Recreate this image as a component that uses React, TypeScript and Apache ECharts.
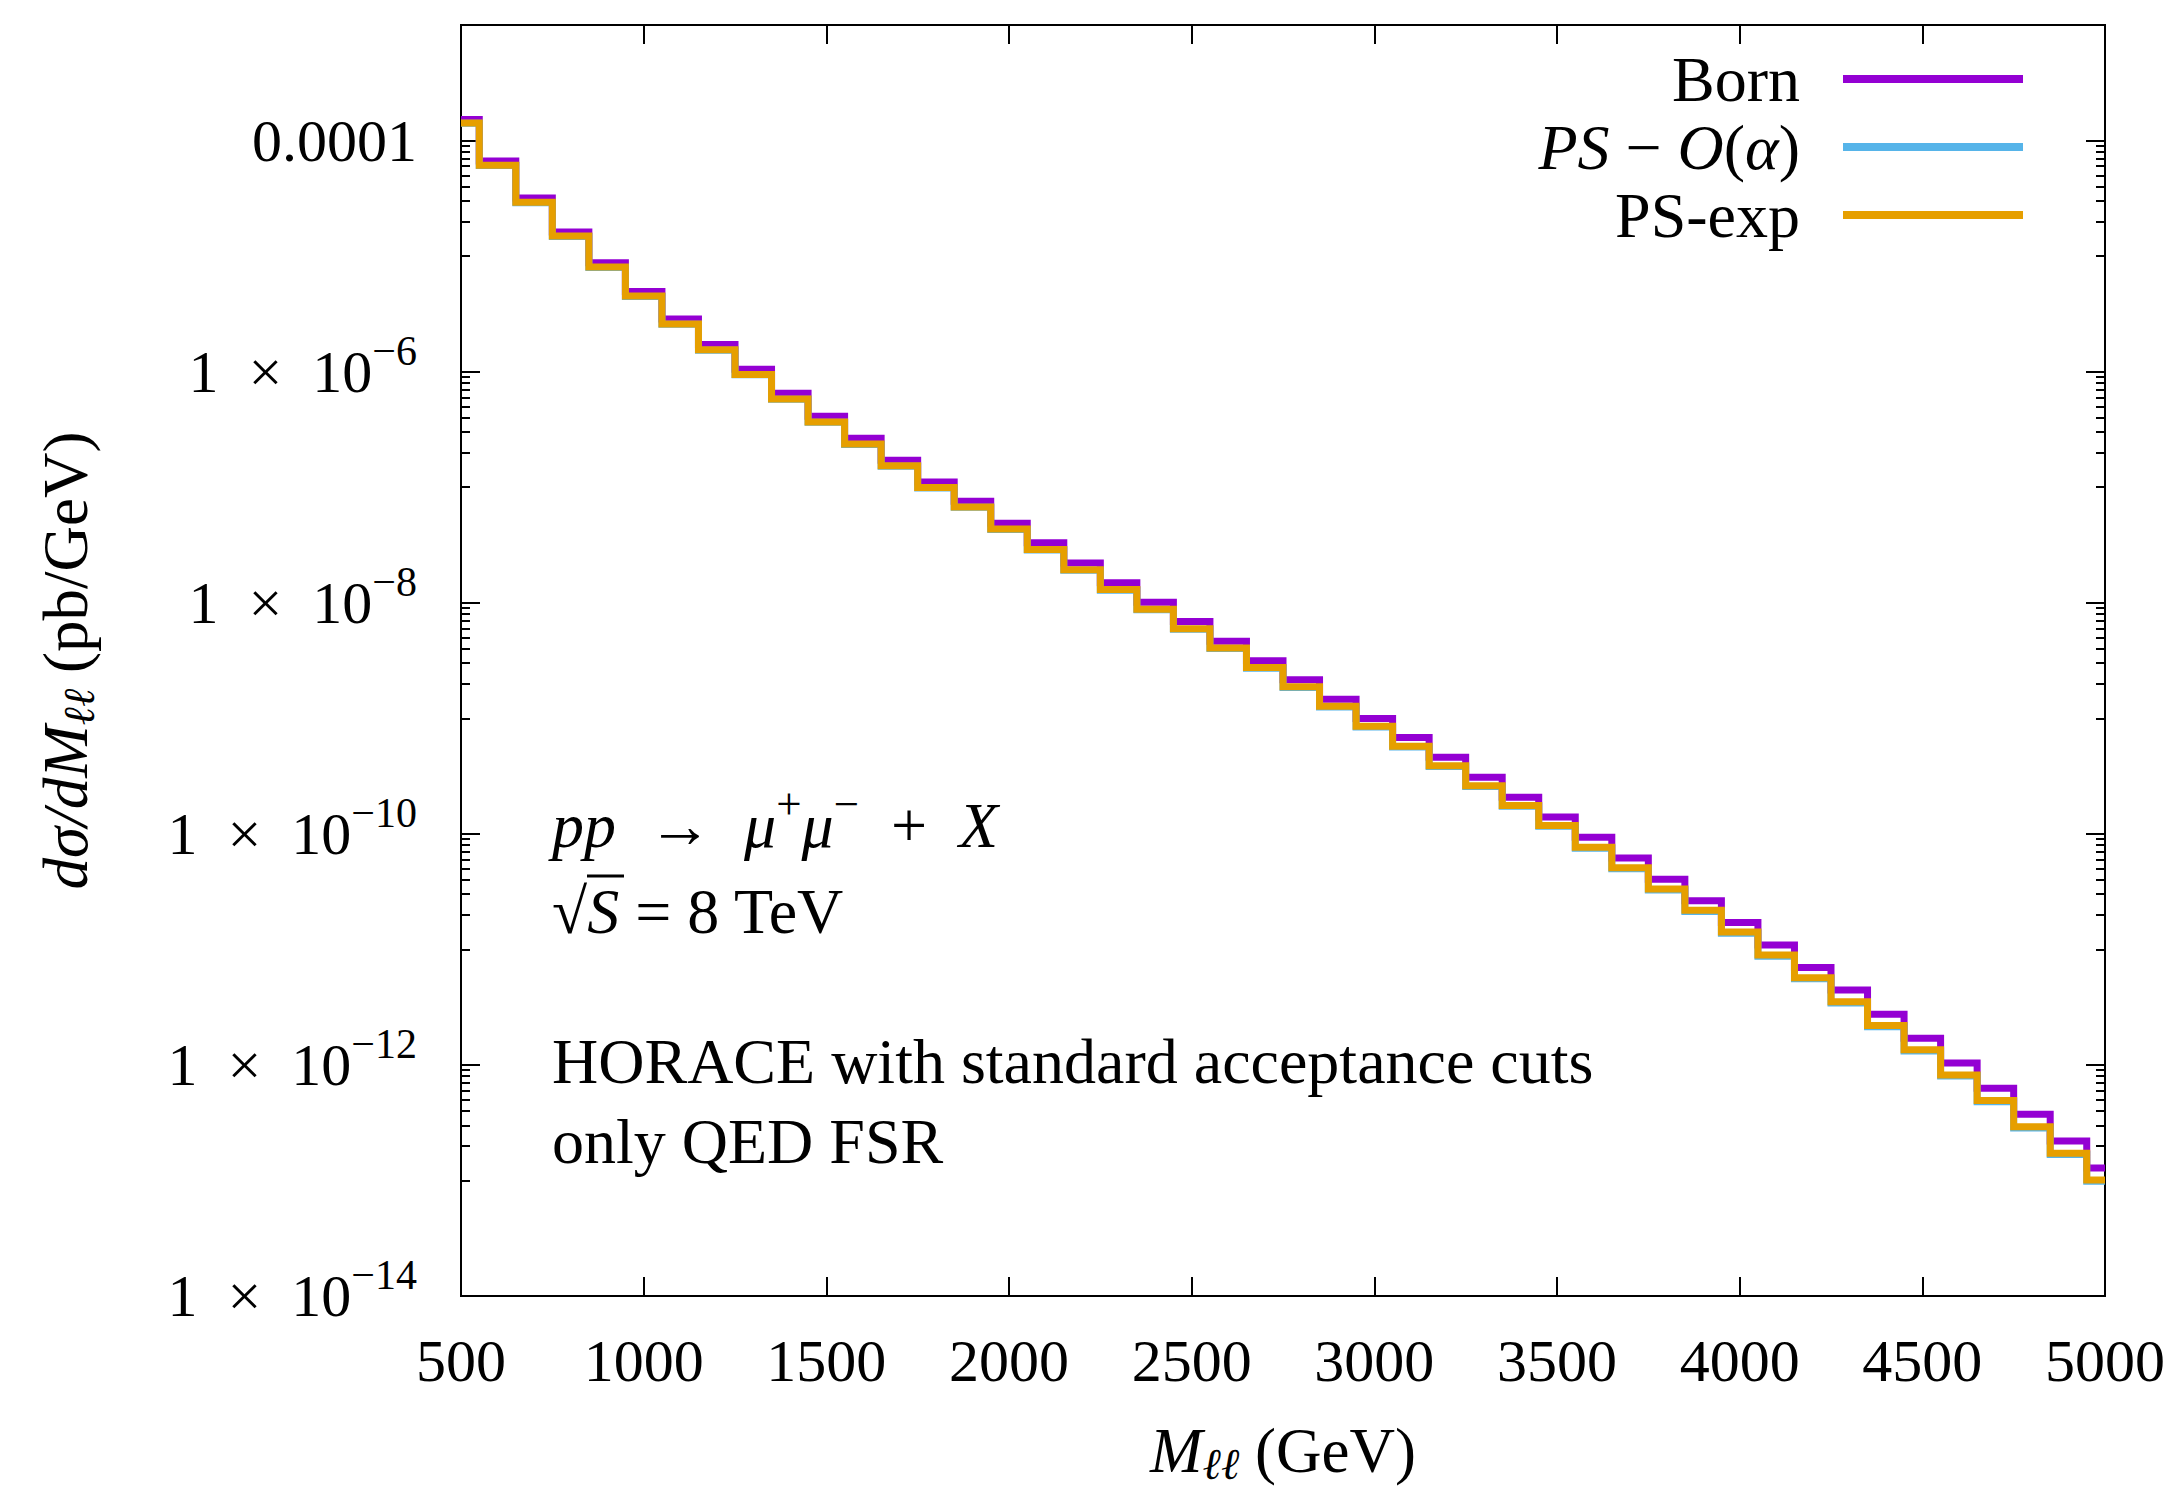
import React, { useEffect, useRef } from 'react';
import * as echarts from 'echarts';

// ---------------- data ----------------
// bin centres (GeV), bins are 100 GeV wide
const BIN_CENTERS = [
  500, 600, 700, 800, 900, 1000, 1100, 1200, 1300, 1400,
  1500, 1600, 1700, 1800, 1900, 2000, 2100, 2200, 2300, 2400,
  2500, 2600, 2700, 2800, 2900, 3000, 3100, 3200, 3300, 3400,
  3500, 3600, 3700, 3800, 3900, 4000, 4100, 4200, 4300, 4400,
  4500, 4600, 4700, 4800, 4900, 5000,
];

// dσ/dM (pb/GeV)
const BORN = [
  1.52e-4, 6.64e-5, 3.18e-5, 1.62e-5, 8.75e-6, 4.95e-6, 2.86e-6, 1.72e-6, 1.05e-6, 6.5e-7,
  4.11e-7, 2.65e-7, 1.71e-7, 1.11e-7, 7.55e-8, 4.88e-8, 3.3e-8, 2.21e-8, 1.49e-8, 1.01e-8,
  6.87e-9, 4.65e-9, 3.15e-9, 2.15e-9, 1.46e-9, 9.95e-10, 6.81e-10, 4.59e-10, 3.08e-10, 2.07e-10,
  1.4e-10, 9.33e-11, 6.18e-11, 4.04e-11, 2.64e-11, 1.71e-11, 1.09e-11, 6.98e-12, 4.45e-12, 2.75e-12,
  1.7e-12, 1.04e-12, 6.27e-13, 3.75e-13, 2.19e-13, 1.28e-13,
];

const PS_OALPHA = [
  1.41e-4, 6.07e-5, 2.9e-5, 1.48e-5, 7.98e-6, 4.48e-6, 2.57e-6, 1.535e-6, 9.39e-7, 5.77e-7,
  3.64e-7, 2.34e-7, 1.52e-7, 9.85e-8, 6.69e-8, 4.31e-8, 2.86e-8, 1.91e-8, 1.285e-8, 8.69e-9,
  5.89e-9, 4.01e-9, 2.71e-9, 1.845e-9, 1.253e-9, 8.41e-10, 5.65e-10, 3.83e-10, 2.57e-10, 1.73e-10,
  1.16e-10, 7.5e-11, 4.99e-11, 3.26e-11, 2.13e-11, 1.38e-11, 8.73e-12, 5.56e-12, 3.44e-12, 2.14e-12,
  1.32e-12, 8.0e-13, 4.79e-13, 2.85e-13, 1.68e-13, 9.85e-14,
];

const PS_EXP = [
  1.42e-4, 6.1e-5, 2.92e-5, 1.49e-5, 8.03e-6, 4.51e-6, 2.59e-6, 1.545e-6, 9.46e-7, 5.81e-7,
  3.67e-7, 2.36e-7, 1.53e-7, 9.93e-8, 6.75e-8, 4.35e-8, 2.89e-8, 1.93e-8, 1.3e-8, 8.79e-9,
  5.96e-9, 4.06e-9, 2.75e-9, 1.87e-9, 1.27e-9, 8.53e-10, 5.74e-10, 3.89e-10, 2.61e-10, 1.76e-10,
  1.18e-10, 7.64e-11, 5.09e-11, 3.33e-11, 2.18e-11, 1.41e-11, 8.93e-12, 5.69e-12, 3.52e-12, 2.19e-12,
  1.35e-12, 8.19e-13, 4.91e-13, 2.92e-13, 1.72e-13, 1.01e-13,
];

const SERIES_NAMES = ['Born', 'PS − 𝒪(α)', 'PS-exp'];
const LEGEND_LABELS = ['Born', '{i|PS} − {i|O}({i|α})', 'PS-exp'];

// axes
const X_MIN = 500;
const X_MAX = 5000;
const X_STEP = 500;
// log10 exponents of the y range
const Y_MIN_EXP = -14;
const Y_MAX_EXP = -3;
const Y_MAJOR_STEP = 2;
const Y_MAJOR_EXPONENTS = [-14, -12, -10, -8, -6, -4];
const Y_MAJOR_LABELS = [
  '{b|1\u2002×\u200210}{s|−14}',
  '{b|1\u2002×\u200210}{s|−12}',
  '{b|1\u2002×\u200210}{s|−10}',
  '{b|1\u2002×\u200210}{s|−8}',
  '{b|1\u2002×\u200210}{s|−6}',
  '{b|0.0001}',
];
const MINOR_DECADES = [-5, -7, -9, -11, -13];
const MINOR_MULTIPLIERS = [1, 2, 3, 4, 5, 6, 7, 8, 9];

const COLORS = ['#9400d3', '#56b4e9', '#e69f00'];

const F = "'Liberation Serif', 'DejaVu Serif', serif";

const RICH: any = {
  n: { fontFamily: F, fontSize: 60, lineHeight: 84, color: '#000' },
  b: { fontFamily: F, fontSize: 60, lineHeight: 84, color: '#000' },
  i: { fontFamily: F, fontSize: 60, lineHeight: 84, fontStyle: 'italic', color: '#000' },
  s: { fontFamily: F, fontSize: 42, lineHeight: 42, verticalAlign: 'top', color: '#000' },
};

const NAME_RICH: any = {
  n: { fontFamily: F, fontSize: 63, lineHeight: 70, color: '#000' },
  i: { fontFamily: F, fontSize: 63, lineHeight: 70, fontStyle: 'italic', color: '#000' },
  sub: { fontFamily: F, fontSize: 44, lineHeight: 46, verticalAlign: 'bottom', fontStyle: 'italic', color: '#000' },
};

const TEXT_RICH: any = {
  n: { fontFamily: F, fontSize: 64, lineHeight: 88, color: '#000' },
  i: { fontFamily: F, fontSize: 64, lineHeight: 88, fontStyle: 'italic', color: '#000' },
  s: { fontFamily: F, fontSize: 45, lineHeight: 45, verticalAlign: 'top', color: '#000' },
};

const LEGEND_RICH: any = {
  i: { fontFamily: F, fontSize: 64, lineHeight: 64, fontStyle: 'italic', color: '#000' },
};

function buildOption(): any {
  const minorValues: number[] = [];
  MINOR_DECADES.forEach((d) => MINOR_MULTIPLIERS.forEach((m) => minorValues.push(Math.log10(m) + d)));

  const fmtY = (v: number) => {
    const idx = Y_MAJOR_EXPONENTS.findIndex((e) => Math.abs(e - v) < 1e-9);
    return idx >= 0 ? Y_MAJOR_LABELS[idx] : '';
  };

  const seriesValues = [BORN, PS_OALPHA, PS_EXP];

  const tickStyle = { color: '#000', width: 2 };

  const baseY = {
    type: 'value',
    min: Y_MIN_EXP,
    max: Y_MAX_EXP,
    interval: Y_MAJOR_STEP,
    axisLine: { show: false },
    splitLine: { show: false },
  };
  const baseX = {
    type: 'value',
    min: X_MIN,
    max: X_MAX,
    interval: X_STEP,
    axisLine: { show: false },
    splitLine: { show: false },
  };

  const txt = (text: string, y: number, rich = true) => ({
    type: 'text',
    x: 552,
    y,
    style: {
      text,
      rich: rich ? TEXT_RICH : undefined,
      fontFamily: F,
      fontSize: 64,
      fill: '#000',
      align: 'left',
      verticalAlign: 'middle',
    },
  });

  return {
    animation: false,
    backgroundColor: '#fff',
    grid: {
      left: 461,
      right: 68,
      top: 25,
      bottom: 197,
      show: true,
      borderColor: '#000',
      borderWidth: 2,
      backgroundColor: 'transparent',
      containLabel: false,
      outerBoundsMode: 'none',
    },
    legend: {
      orient: 'vertical',
      right: 145,
      top: 42,
      align: 'right',
      icon: 'rect',
      itemWidth: 180,
      itemHeight: 8,
      itemGap: 4,
      selectedMode: false,
      data: SERIES_NAMES,
      formatter: (name: string) => LEGEND_LABELS[SERIES_NAMES.indexOf(name)],
      textStyle: {
        fontFamily: F,
        fontSize: 64,
        lineHeight: 64,
        color: '#000',
        padding: [0, 38, 0, 0],
        rich: LEGEND_RICH,
      },
    },
    xAxis: [
      {
        ...baseX,
        position: 'bottom',
        axisTick: { inside: true, length: 19, lineStyle: tickStyle },
        axisLabel: {
          margin: 35,
          fontFamily: F,
          fontSize: 60,
          lineHeight: 60,
          color: '#000',
          formatter: (v: number) => String(v),
        },
        name: '{i|M}{sub|ℓℓ}{n| (GeV)}',
        nameLocation: 'middle',
        nameGap: 120,
        nameTextStyle: { fontFamily: F, fontSize: 63, color: '#000', rich: NAME_RICH },
      },
      {
        ...baseX,
        position: 'top',
        axisTick: { inside: true, length: 19, lineStyle: tickStyle },
        axisLabel: { show: false },
      },
    ],
    yAxis: [
      {
        ...baseY,
        position: 'left',
        axisTick: { inside: true, length: 19, lineStyle: tickStyle },
        axisLabel: {
          margin: 44,
          formatter: fmtY,
          fontFamily: F,
          fontSize: 60,
          color: '#000',
          rich: RICH,
        },
        name: '{i|dσ/dM}{sub|ℓℓ}{n| (pb/GeV)}',
        nameLocation: 'middle',
        nameGap: 360,
        nameRotate: 90,
        nameTextStyle: { fontFamily: F, fontSize: 63, color: '#000', rich: NAME_RICH },
      },
      {
        ...baseY,
        position: 'right',
        axisTick: { inside: true, length: 19, lineStyle: tickStyle },
        axisLabel: { show: false },
      },
      {
        ...baseY,
        position: 'left',
        axisTick: { inside: true, length: 9, lineStyle: tickStyle, customValues: minorValues },
        axisLabel: { show: false },
      },
      {
        ...baseY,
        position: 'right',
        axisTick: { inside: true, length: 9, lineStyle: tickStyle, customValues: minorValues },
        axisLabel: { show: false },
      },
    ],
    series: SERIES_NAMES.map((name, k) => ({
      name,
      type: 'line',
      step: 'middle',
      xAxisIndex: 0,
      yAxisIndex: 0,
      symbol: 'none',
      showSymbol: false,
      data: BIN_CENTERS.map((x, i) => [x, Math.log10(seriesValues[k][i])]),
      lineStyle: { color: COLORS[k], width: 7, join: 'miter', cap: 'butt' },
      itemStyle: { color: COLORS[k] },
      z: 2 + k,
    })),
    graphic: [
      txt('{i|pp}{n|\u2002→\u2002}{i|μ}{s|+}{i|μ}{s|−}{n|\u2002+\u2002}{i|X}', 825),
      txt('{n|√}{i|S}{n| = 8 TeV}', 911),
      {
        type: 'line',
        shape: { x1: 587, y1: 876, x2: 624, y2: 876 },
        style: { stroke: '#000', lineWidth: 3 },
      },
      txt('HORACE with standard acceptance cuts', 1061, false),
      txt('only QED FSR', 1141, false),
    ],
  };
}

export default function App() {
  const ref = useRef<HTMLDivElement>(null);
  useEffect(() => {
    if (!ref.current) return;
    const chart = echarts.init(ref.current, undefined, { renderer: 'svg' });
    chart.setOption(buildOption());
    return () => chart.dispose();
  }, []);
  return (
    <div
      ref={ref}
      style={{ position: 'fixed', left: 0, top: 0, width: 2173, height: 1493, background: '#fff' }}
    />
  );
}
